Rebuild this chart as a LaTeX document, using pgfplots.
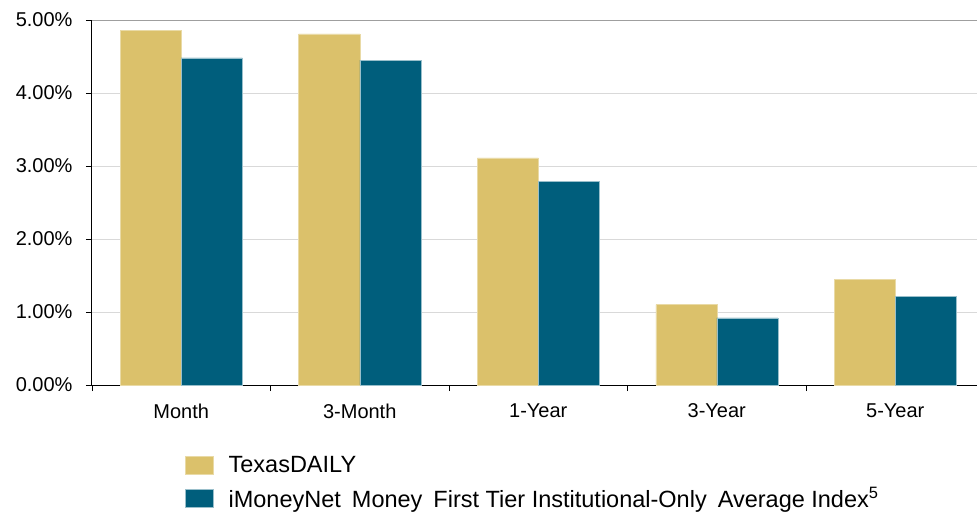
\documentclass[border=0pt]{standalone}
\usepackage{pgfplots}
\pgfplotsset{compat=1.18}
\usepackage{fontspec}
\setmainfont{Liberation Sans}
\definecolor{goldbar}{RGB}{219,193,107}
\definecolor{tealbar}{RGB}{0,94,124}
\begin{document}
\begin{tikzpicture}
\begin{axis}[
  scale only axis, width=885pt, height=365pt,
  at={(0pt,0pt)}, anchor=south west,
  ybar=0pt, bar width=61pt,
  xmin=-0.5, xmax=4.458, ymin=0, ymax=5,
  axis x line=bottom, axis y line=left,
  axis line style={-, black, line width=1pt},
  ytick={0,1,2,3,4,5},
  ymajorgrids, grid style={gray!30, line width=0.8pt},
  /pgf/number format/assume math mode=true,
  yticklabel={\pgfmathprintnumber[fixed,fixed zerofill,precision=2]{\tick}\%},
  tick align=outside, major tick length=6pt, minor tick length=6pt,
  tick style={black, line width=0.8pt},
  xtick={0,1,2,3,4}, xticklabels={Month,3-Month,1-Year,3-Year,5-Year},
  major x tick style={draw=none},
  minor xtick={-0.5,0.5,1.5,2.5,3.5},
  ticklabel style={font=\fontsize{20}{24}\selectfont},
  yticklabel style={xshift=-10pt},
  xticklabel style={yshift=-9pt},
  legend style={at={(axis description cs:0.105,-0.19)}, anchor=north west,
    draw=none, fill=none, font=\fontsize{23.5}{28}\selectfont,
    row sep=9pt, inner sep=0pt,
    /tikz/every odd column/.append style={column sep=13pt}},
  legend cell align=left,
  legend image code/.code={\fill[#1] (0pt,-9pt) rectangle (28pt,9pt);},
]
\addplot[fill=goldbar, draw=goldbar!60!white, line width=0.5pt] coordinates {(0,4.86) (1,4.81) (2,3.11) (3,1.10) (4,1.45)};
\addlegendentry{TexasDAILY}
\addplot[fill=tealbar, draw=tealbar!40!white, line width=0.5pt] coordinates {(0,4.48) (1,4.45) (2,2.79) (3,0.92) (4,1.21)};
\addlegendentry{iMoneyNet\hspace{11pt}Money\hspace{11pt}First Tier Institutional-Only\hspace{11pt}Average Index\textsuperscript{5}}
\draw[gray!75, line width=1.4pt] (rel axis cs:0,1) -- (rel axis cs:1,1);
\end{axis}
\pgfresetboundingbox
\useasboundingbox (-92pt,-127pt) rectangle (885pt,385pt);
\end{tikzpicture}
\end{document}
